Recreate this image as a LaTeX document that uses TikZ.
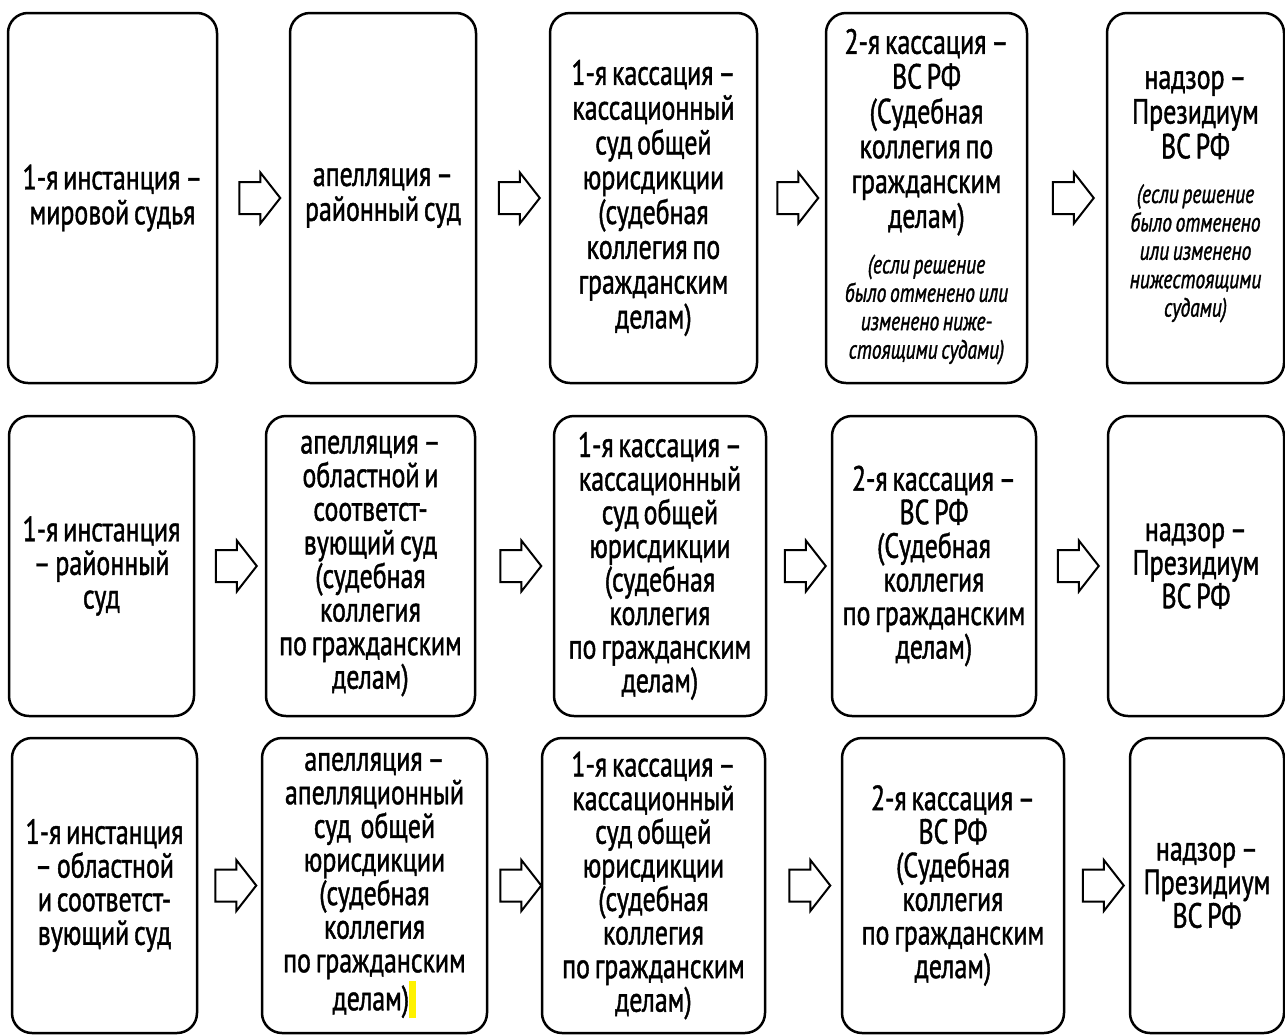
\documentclass[tikz,border=0pt]{standalone}
\usepackage{fontspec}
\setmainfont{PT Sans}[FakeStretch=0.74, FakeBold=1.2, WordSpace=0.7]
\usetikzlibrary{shapes.arrows,calc}

% italic remark set under the main text of a box
\newcommand{\remark}[1]{{\itshape\fontsize{13.2}{14.2}\selectfont
  \begin{tabular}{@{}c@{}}#1\end{tabular}}}
% yellow text-marker highlight
\newcommand{\hlmark}{{\color{yellow}\rule[-4pt]{3.6pt}{18.5pt}}}

\begin{document}
\begin{tikzpicture}[x=0.5pt, y=-0.5pt,
  courtbox/.style={draw, line width=1.25pt, rounded corners=10pt, fill=white,
    align=center, inner sep=0pt, font=\fontsize{17.5}{17.4}\selectfont},
  toprow/.style={courtbox, minimum height=185pt},
  midrow/.style={courtbox, minimum height=150pt, font=\fontsize{17.5}{16.8}\selectfont},
  lowrow/.style={courtbox, minimum height=147.5pt, font=\fontsize{17.5}{16.8}\selectfont},
  passarrow/.style={single arrow, draw, line width=1pt, inner xsep=0pt, inner ysep=7.5pt,
    minimum width=0pt, minimum height=20.5pt,
    single arrow head extend=4.75pt, single arrow tip angle=104}
]
\useasboundingbox (0,0) rectangle (1285,1034);

% ---------- Row 1: from the justice of the peace ----------
\node[toprow, minimum width=104.5pt] (b11) at (112.5,198)
  {1-я инстанция –\\мировой судья};
\node[toprow, minimum width=93pt] (b12) at (383,198)
  {апелляция –\\районный суд};
\node[toprow, minimum width=103.5pt] (b13) at (653.5,198)
  {1-я кассация –\\кассационный\\суд общей\\юрисдикции\\(судебная\\коллегия по\\гражданским\\делам)};
\node[toprow, minimum width=100.5pt] (b14) at (926.5,198)
  {2-я кассация –\\ВС РФ\\(Судебная\\коллегия по\\гражданским\\делам)\\[8pt]
   \remark{(если решение\\было отменено или\\изменено ниже-\\стоящими судами)}};
\node[toprow, minimum width=88.5pt] (b15) at (1195.5,198)
  {надзор –\\Президиум\\ВС РФ\\[11pt]
   \remark{(если решение\\было отменено\\или изменено\\нижестоящими\\судами)}};

% ---------- Row 2: from the district court ----------
\node[midrow, minimum width=92.5pt] (b21) at (101.5,566)
  {1-я инстанция\\– районный\\суд};
\node[midrow, minimum width=104.5pt] (b22) at (370.5,566)
  {апелляция –\\областной и\\соответст-\\вующий суд\\(судебная\\коллегия\\по гражданским\\делам)};
\node[midrow, minimum width=106pt] (b23) at (660,566)
  {1-я кассация –\\кассационный\\суд общей\\юрисдикции\\(судебная\\коллегия\\по гражданским\\делам)};
\node[midrow, minimum width=102pt] (b24) at (934,566)
  {2-я кассация –\\ВС РФ\\(Судебная\\коллегия\\по гражданским\\делам)};
\node[midrow, minimum width=88pt] (b25) at (1196,566)
  {надзор –\\Президиум\\ВС РФ};

% ---------- Row 3: from the regional court ----------
\node[lowrow, minimum width=92.5pt] (b31) at (104.5,885.5)
  {1-я инстанция\\– областной\\и соответст-\\вующий суд};
\node[lowrow, minimum width=112.5pt] (b32) at (374.5,885.5)
  {апелляция –\\апелляционный\\суд\ \ общей\\юрисдикции\\(судебная\\коллегия\\по гражданским\\делам)\hlmark};
\node[lowrow, minimum width=111.5pt] (b33) at (653.5,885.5)
  {1-я кассация –\\кассационный\\суд общей\\юрисдикции\\(судебная\\коллегия\\по гражданским\\делам)};
\node[lowrow, minimum width=111pt] (b34) at (953,885.5)
  {2-я кассация –\\ВС РФ\\(Судебная\\коллегия\\по гражданским\\делам)};
\node[lowrow, minimum width=77pt] (b35) at (1207,885.5)
  {надзор –\\Президиум\\ВС РФ};

% ---------- Hollow arrows between the stages ----------
\foreach \r in {1,2,3} {
  \foreach \c [evaluate=\c as \n using int(\c+1)] in {1,...,4} {
    \node[passarrow] (p\r\c) at ($(b\r\c.east)!0.5!(b\r\n.west)$) {};
  }
}

\end{tikzpicture}
\end{document}
